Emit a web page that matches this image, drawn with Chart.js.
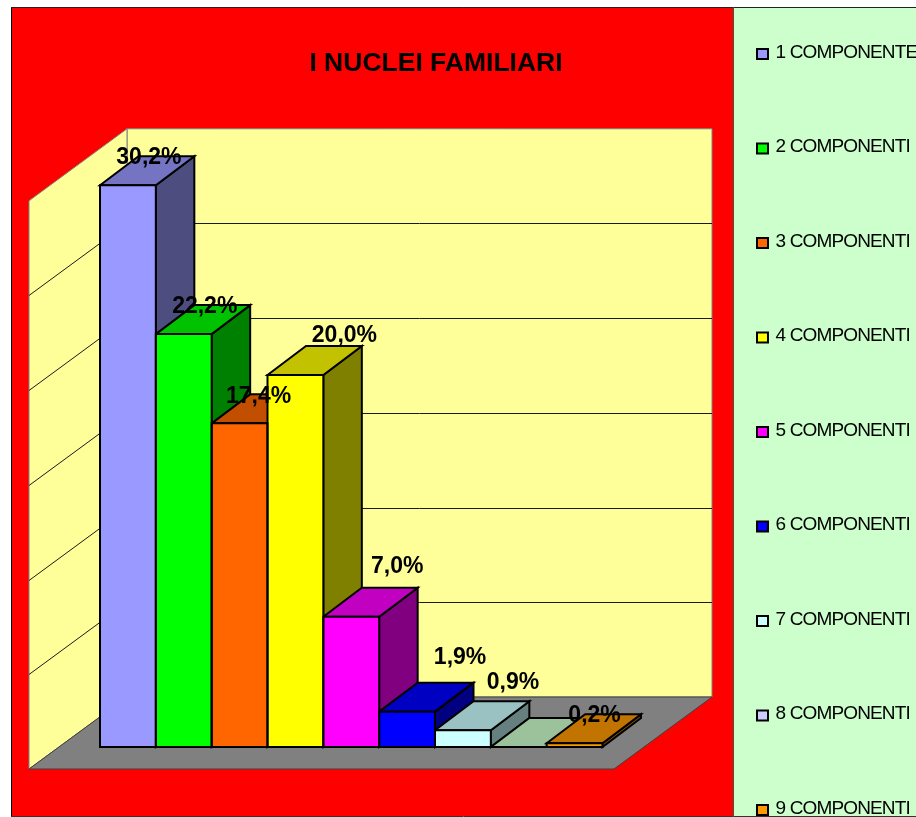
<!DOCTYPE html>
<html>
<head>
<meta charset="utf-8">
<title>I NUCLEI FAMILIARI</title>
<script src="https://cdn.jsdelivr.net/npm/chart.js@4"></script>
<style>
    html, body { margin: 0; padding: 0; background: #fff; overflow: hidden; }
    canvas { display: block; }
</style>
</head>
<body>
<canvas id="barChart" width="916" height="817"></canvas>
<script>
// ===== DATA =====
const chartTitle = 'I NUCLEI FAMILIARI';
const categories = ['1 COMPONENTE', '2 COMPONENTI', '3 COMPONENTI', '4 COMPONENTI', '5 COMPONENTI',
    '6 COMPONENTI', '7 COMPONENTI', '8 COMPONENTI', '9 COMPONENTI'];
const percentages = [30.2, 22.2, 17.4, 20.0, 7.0, 1.9, 0.9, 0, 0.2];
const wallTicks = [0, 5, 10, 15, 20, 25, 30];

// ===== STYLE =====
const frontColors = ['#9999FF', '#00FF00', '#FF6600', '#FFFF00', '#FF00FF', '#0000FF', '#CCFFFF', '#CCFFCC', '#FF9900'];
const legendColors = ['#9999FF', '#00FF00', '#FF6600', '#FFFF00', '#FF00FF', '#0000FF', '#CCFFFF', '#CCCCFF', '#FF9900'];
const FONT = '"Liberation Sans", Arial, sans-serif';

// Offset of the bar's back edge from its front edge
const DEPTH_X = 38.5;
const DEPTH_Y = -29;

// The labels were moved by hand in the original, so they do not sit at a fixed distance
const labelShiftX = [21, 21, 19, 49, 46, 53, 50, 0, 20];
const labelShiftY = [-28, -27, -27, -39, -50, -54, -48, 0, -28];

function shade(hex, factor) {
    const n = parseInt(hex.slice(1), 16);
    const r = Math.round((n >> 16 & 255) * factor);
    const g = Math.round((n >> 8 & 255) * factor);
    const b = Math.round((n & 255) * factor);
    return `rgb(${r}, ${g}, ${b})`;
}

function polygon(ctx, points, fill, stroke, lineWidth) {
    ctx.beginPath();
    points.forEach((p, i) => i === 0 ? ctx.moveTo(p[0], p[1]) : ctx.lineTo(p[0], p[1]));
    ctx.closePath();
    if (fill) {
        ctx.fillStyle = fill;
        ctx.fill();
    }
    if (stroke) {
        ctx.strokeStyle = stroke;
        ctx.lineWidth = lineWidth;
        ctx.lineJoin = 'miter';
        ctx.stroke();
    }
}

function line(ctx, x1, y1, x2, y2, color, width) {
    ctx.beginPath();
    ctx.moveTo(x1, y1);
    ctx.lineTo(x2, y2);
    ctx.strokeStyle = color;
    ctx.lineWidth = width;
    ctx.stroke();
}

function barBoxes(chart) {
    return chart.getDatasetMeta(0).data.map(bar => {
        const p = bar.getProps(['x', 'y', 'base', 'width'], true);
        return { left: p.x - p.width / 2, right: p.x + p.width / 2, top: p.y, base: p.base, center: p.x };
    });
}

// ===== BACKGROUND, WALLS AND FLOOR =====
const wallsPlugin = {
    id: 'walls',
    beforeDatasetsDraw(chart) {
        const ctx = chart.ctx;
        const wall = chart.scales.yWall;
        const wallY = v => wall.getPixelForValue(v) - 50;
        const floorY = wallY(0);
        const topY = wallY(wallTicks[wallTicks.length - 1]);
        const backLeft = 127, backRight = 712, wallDx = 98, wallDy = 72;

        ctx.save();
        // frame
        ctx.fillStyle = '#FFFFFF';
        ctx.fillRect(0, 0, 916, 817);
        ctx.fillStyle = '#FF0000';
        ctx.fillRect(11, 7, 723, 809);
        ctx.fillStyle = '#CCFFCC';
        ctx.fillRect(734, 7, 182, 809);
        line(ctx, 11.5, 7, 11.5, 817, '#000', 1);
        line(ctx, 11, 7.5, 916, 7.5, '#222', 1);
        line(ctx, 11, 816.5, 916, 816.5, '#333', 1);
        line(ctx, 733.5, 7, 733.5, 817, '#3A5A3A', 1);

        // back and side wall
        polygon(ctx, [[backLeft, topY], [backRight, topY], [backRight, floorY], [backLeft, floorY]], '#FFFF99', '#808080', 1);
        polygon(ctx, [[backLeft - wallDx, topY + wallDy], [backLeft, topY], [backLeft, floorY], [backLeft - wallDx, floorY + wallDy]], '#FFFF99', '#808080', 1);

        // grid lines on both walls
        wallTicks.slice(1, -1).forEach(t => {
            const y = Math.round(wallY(t)) + 0.5;
            line(ctx, backLeft, y, backRight, y, '#1A1A1A', 1);
            line(ctx, backLeft - wallDx, y + wallDy, backLeft, y, '#1A1A1A', 1);
        });

        // floor
        polygon(ctx, [[backLeft - wallDx, floorY + wallDy], [backLeft, floorY], [backRight, floorY], [backRight - wallDx, floorY + wallDy]], '#808080', '#404040', 1);

        // side and top faces, left to right so each bar overlaps the previous one
        barBoxes(chart).forEach((b, i) => {
            const color = frontColors[i];
            polygon(ctx, [[b.right, b.top], [b.right + DEPTH_X, b.top + DEPTH_Y], [b.right + DEPTH_X, b.base + DEPTH_Y], [b.right, b.base]],
                shade(color, 0.5), '#000', 2);
            polygon(ctx, [[b.left, b.top], [b.left + DEPTH_X, b.top + DEPTH_Y], [b.right + DEPTH_X, b.top + DEPTH_Y], [b.right, b.top]],
                shade(color, 0.76), '#000', 2);
        });
        ctx.restore();
    },
    afterDatasetsDraw(chart) {
        const ctx = chart.ctx;
        ctx.save();
        const boxes = barBoxes(chart);
        boxes.forEach(b => {
            polygon(ctx, [[b.left, b.top], [b.right, b.top], [b.right, b.base], [b.left, b.base]], null, '#000', 2);
        });

        // value labels
        ctx.fillStyle = '#000';
        ctx.textAlign = 'center';
        ctx.textBaseline = 'middle';
        ctx.font = `bold 23px ${FONT}`;
        ctx.letterSpacing = '0px';
        boxes.forEach((b, i) => {
            if (percentages[i] === 0) return;
            const text = percentages[i].toFixed(1).replace('.', ',') + '%';
            ctx.fillText(text, b.center + labelShiftX[i], b.top + labelShiftY[i]);
        });

        // title
        ctx.font = `bold 26.5px ${FONT}`;
        ctx.letterSpacing = '0px';
        ctx.fillText(chartTitle, 436, 63.5);

        // legend
        ctx.textAlign = 'left';
        ctx.font = `19px ${FONT}`;
        ctx.letterSpacing = '-0.85px';
        categories.forEach((name, i) => {
            const y = 52.5 + i * 94.5;
            ctx.fillStyle = legendColors[i];
            ctx.fillRect(757, y - 3.5, 11, 10);
            ctx.strokeStyle = '#000';
            ctx.lineWidth = 2;
            ctx.strokeRect(757, y - 3.5, 11, 10);
            ctx.fillStyle = '#000';
            ctx.fillText(name, 775.5, y);
        });
        ctx.restore();
    }
};

// ===== CHART =====
new Chart(document.getElementById('barChart').getContext('2d'), {
    type: 'bar',
    data: {
        labels: categories,
        datasets: [{
            data: percentages,
            backgroundColor: frontColors,
            borderWidth: 0,
            barPercentage: 1,
            categoryPercentage: 1,
            yAxisID: 'y'
        }]
    },
    options: {
        responsive: false,
        animation: false,
        layout: { padding: { left: 100, right: 313.5, top: 96, bottom: 70 } },
        plugins: {
            legend: { display: false },
            title: { display: false },
            tooltip: { enabled: false }
        },
        scales: {
            x: { display: false },
            y: { display: false, min: 0, max: 35 },
            yWall: { display: false, min: 0, max: 34.37 }
        }
    },
    plugins: [wallsPlugin]
});
</script>
</body>
</html>
